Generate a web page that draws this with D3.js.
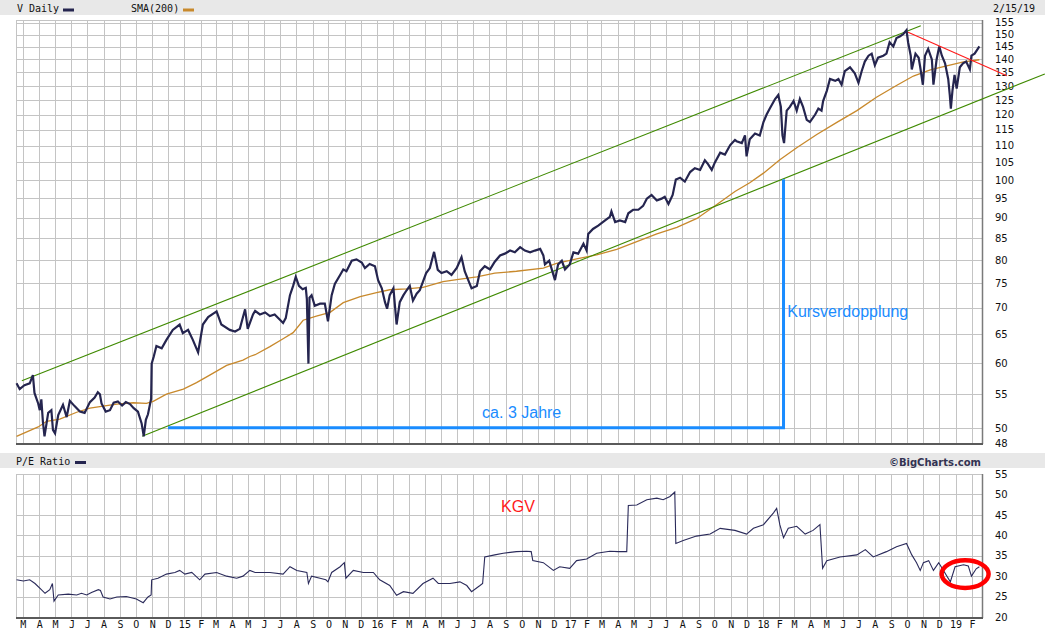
<!DOCTYPE html>
<html><head><meta charset="utf-8">
<script src="https://cdn.jsdelivr.net/npm/d3@7"></script>
<style>body{margin:0;background:#fff}svg{display:block}</style>
</head><body>
<svg id="c" width="1045" height="635"></svg>
<script>
// ---------- DATA ----------
const priceDates = ["2014-02-17","2014-02-23","2014-03-04","2014-03-14","2014-03-20","2014-03-23","2014-03-30","2014-04-02","2014-04-05","2014-04-08","2014-04-11","2014-04-18","2014-04-24","2014-04-27","2014-05-01","2014-05-07","2014-05-16","2014-05-23","2014-05-29","2014-06-07","2014-06-17","2014-06-26","2014-07-06","2014-07-15","2014-07-21","2014-07-25","2014-07-28","2014-08-05","2014-08-13","2014-08-20","2014-08-28","2014-09-05","2014-09-12","2014-09-20","2014-09-27","2014-10-05","2014-10-12","2014-10-16","2014-10-20","2014-10-24","2014-10-30","2014-10-31","2014-11-04","2014-11-09","2014-11-19","2014-11-28","2014-12-10","2014-12-23","2014-12-29","2015-01-08","2015-01-17","2015-01-27","2015-02-05","2015-02-15","2015-03-03","2015-03-12","2015-03-28","2015-04-07","2015-04-16","2015-04-26","2015-05-01","2015-05-11","2015-05-15","2015-05-24","2015-06-03","2015-06-12","2015-06-21","2015-07-01","2015-07-07","2015-07-12","2015-07-20","2015-07-26","2015-07-31","2015-08-06","2015-08-13","2015-08-19","2015-08-21","2015-08-24","2015-08-26","2015-08-30","2015-09-05","2015-09-15","2015-09-24","2015-09-30","2015-10-07","2015-10-13","2015-10-23","2015-10-29","2015-11-04","2015-11-14","2015-11-23","2015-12-03","2015-12-09","2015-12-18","2015-12-28","2016-01-03","2016-01-10","2016-01-16","2016-01-20","2016-01-25","2016-02-01","2016-02-07","2016-02-13","2016-02-20","2016-02-26","2016-03-03","2016-03-09","2016-03-16","2016-03-22","2016-03-28","2016-04-03","2016-04-10","2016-04-18","2016-04-25","2016-05-02","2016-05-12","2016-05-21","2016-05-31","2016-06-09","2016-06-15","2016-06-28","2016-07-08","2016-07-14","2016-07-23","2016-08-02","2016-08-11","2016-08-21","2016-08-30","2016-09-09","2016-09-18","2016-09-28","2016-10-07","2016-10-17","2016-10-26","2016-11-05","2016-11-11","2016-11-14","2016-11-22","2016-11-27","2016-12-03","2016-12-09","2016-12-16","2016-12-22","2016-12-31","2017-01-07","2017-01-16","2017-01-26","2017-02-01","2017-02-04","2017-02-13","2017-02-23","2017-03-08","2017-03-17","2017-03-20","2017-03-27","2017-04-05","2017-04-15","2017-04-21","2017-04-30","2017-05-10","2017-05-19","2017-05-26","2017-06-04","2017-06-14","2017-06-23","2017-06-29","2017-07-06","2017-07-14","2017-07-20","2017-07-28","2017-08-06","2017-08-16","2017-08-25","2017-09-04","2017-09-13","2017-09-19","2017-09-26","2017-10-02","2017-10-12","2017-10-21","2017-10-31","2017-11-09","2017-11-12","2017-11-22","2017-11-28","2017-12-01","2017-12-07","2017-12-17","2017-12-26","2018-01-02","2018-01-08","2018-01-14","2018-01-24","2018-01-30","2018-02-04","2018-02-07","2018-02-10","2018-02-15","2018-02-21","2018-02-28","2018-03-06","2018-03-12","2018-03-18","2018-03-25","2018-03-31","2018-04-10","2018-04-16","2018-04-22","2018-04-25","2018-05-02","2018-05-08","2018-05-18","2018-05-24","2018-05-30","2018-06-05","2018-06-15","2018-06-24","2018-07-01","2018-07-07","2018-07-13","2018-07-20","2018-07-26","2018-08-01","2018-08-07","2018-08-17","2018-08-23","2018-08-29","2018-09-05","2018-09-11","2018-09-18","2018-09-24","2018-09-30","2018-10-03","2018-10-08","2018-10-10","2018-10-17","2018-10-23","2018-10-26","2018-10-31","2018-11-04","2018-11-10","2018-11-17","2018-11-20","2018-11-26","2018-12-01","2018-12-06","2018-12-12","2018-12-18","2018-12-21","2018-12-23","2018-12-26","2018-12-30","2019-01-03","2019-01-09","2019-01-15","2019-01-21","2019-01-28","2019-01-31","2019-02-06","2019-02-12","2019-02-15"];
const priceClose = [56.7,55.8,56.4,56.7,58.0,55.2,53.6,52.6,54.2,50.9,48.9,52.2,52.6,49.8,49.3,51.9,53.4,51.6,54.0,53.2,52.4,52.2,53.8,54.5,55.3,55.0,53.6,52.4,52.6,53.7,53.9,53.3,53.8,53.5,52.9,52.4,50.7,48.9,51.2,52.0,54.3,59.9,61.1,62.9,62.5,64.0,65.8,66.8,65.2,65.8,64.0,61.8,66.8,68.2,69.3,66.8,65.8,65.5,66.0,69.7,66.0,68.7,69.4,68.7,69.1,68.4,68.7,67.7,67.1,68.0,72.5,74.4,76.3,74.4,73.7,74.0,71.7,59.9,72.0,72.5,70.4,70.8,70.8,67.4,72.5,74.8,76.7,77.9,77.5,79.8,80.1,79.4,78.2,79.1,78.6,75.6,73.9,71.1,69.8,72.5,73.9,66.8,71.1,72.5,73.5,74.4,71.4,72.8,73.5,75.3,77.1,78.2,81.8,77.8,77.1,77.5,76.7,78.2,80.6,77.5,73.9,74.4,77.5,78.6,77.9,79.6,81.0,81.4,82.1,81.7,82.9,82.1,81.7,82.1,82.5,81.0,79.0,79.8,77.9,75.6,79.0,79.8,77.9,79.0,81.7,81.4,83.7,82.1,86.0,87.2,88.0,89.3,90.2,91.6,88.9,89.3,88.9,91.1,92.0,92.0,93.0,94.9,95.9,94.4,94.9,95.4,93.5,95.9,100.1,100.6,99.5,102.2,103.3,102.8,105.6,104.5,102.8,105.0,107.9,107.3,110.2,111.8,111.4,110.8,113.2,106.8,112.0,113.8,113.2,117.5,120.0,122.0,125.3,126.7,122.6,113.2,110.8,121.3,122.6,124.6,121.3,125.3,122.6,118.2,117.5,120.0,122.0,121.3,124.6,128.2,132.5,131.8,132.5,130.4,135.4,136.9,134.6,131.1,135.4,139.1,141.4,142.2,137.7,140.6,141.4,142.2,146.8,145.1,148.5,149.3,150.2,151.8,146.8,141.4,136.1,142.2,140.6,136.9,130.4,141.4,144.1,139.9,130.4,139.9,145.1,141.4,138.4,132.5,126.7,122.0,128.2,134.0,129.0,136.9,138.4,139.1,136.1,141.4,142.2,144.1,145.1];

const smaDates = ["2014-02-17","2014-03-30","2014-04-15","2014-05-10","2014-06-11","2014-07-06","2014-07-31","2014-08-26","2014-09-26","2014-10-21","2014-11-03","2014-11-28","2014-12-30","2015-01-24","2015-02-18","2015-03-22","2015-04-22","2015-05-05","2015-05-15","2015-06-12","2015-07-07","2015-07-26","2015-08-14","2015-09-08","2015-10-04","2015-10-29","2015-11-30","2015-12-31","2016-01-25","2016-02-26","2016-03-28","2016-05-05","2016-05-31","2016-07-08","2016-08-11","2016-09-21","2016-11-11","2016-12-06","2017-01-13","2017-02-20","2017-03-30","2017-05-07","2017-06-14","2017-07-22","2017-08-29","2017-10-05","2017-11-09","2017-12-07","2018-01-02","2018-02-02","2018-03-06","2018-04-13","2018-05-21","2018-06-28","2018-08-04","2018-09-11","2018-10-13","2018-11-14","2018-12-15","2019-01-16","2019-02-15"];
const smaValues = [48.9,50.2,51.0,51.3,52.3,52.9,53.2,53.5,53.7,53.6,53.9,55.0,55.8,56.8,58.0,59.6,60.5,61.1,61.4,62.8,64.2,65.3,67.6,68.4,69.1,71.0,72.2,73.0,73.6,73.8,74.1,75.3,75.7,76.3,77.1,77.5,78.2,79.2,80.2,81.1,82.4,84.2,86.0,87.6,89.8,93.3,96.8,99.2,101.9,105.8,109.4,113.5,117.4,121.3,125.9,130.1,133.6,135.9,137.4,139.0,139.8];

const peDates = ["2014-02-17","2014-03-02","2014-03-14","2014-03-24","2014-04-05","2014-04-12","2014-04-21","2014-04-26","2014-04-29","2014-05-07","2014-05-26","2014-06-11","2014-06-20","2014-06-30","2014-07-09","2014-07-22","2014-07-26","2014-07-31","2014-08-13","2014-08-26","2014-09-13","2014-10-02","2014-10-15","2014-10-24","2014-10-30","2014-10-31","2014-11-12","2014-11-28","2014-12-14","2014-12-23","2015-01-02","2015-01-15","2015-01-30","2015-02-09","2015-03-03","2015-03-22","2015-04-10","2015-04-22","2015-05-05","2015-05-15","2015-06-12","2015-07-07","2015-07-20","2015-08-02","2015-08-21","2015-08-24","2015-08-30","2015-09-15","2015-09-26","2015-09-30","2015-10-07","2015-10-23","2015-10-31","2015-11-03","2015-11-17","2015-12-06","2015-12-25","2016-01-06","2016-01-25","2016-02-07","2016-02-20","2016-03-09","2016-03-28","2016-04-16","2016-04-26","2016-05-18","2016-06-06","2016-06-19","2016-06-28","2016-07-14","2016-07-19","2016-07-23","2016-08-11","2016-08-27","2016-09-21","2016-10-10","2016-10-19","2016-10-22","2016-11-11","2016-11-30","2016-12-12","2016-12-31","2017-01-13","2017-02-01","2017-02-20","2017-03-17","2017-04-02","2017-04-18","2017-04-21","2017-05-07","2017-05-26","2017-06-14","2017-06-26","2017-07-09","2017-07-18","2017-07-20","2017-08-03","2017-08-28","2017-09-23","2017-10-12","2017-11-09","2017-12-01","2017-12-14","2018-01-02","2018-01-21","2018-01-27","2018-02-02","2018-02-09","2018-02-18","2018-03-06","2018-03-22","2018-04-06","2018-04-19","2018-04-24","2018-05-02","2018-05-27","2018-06-28","2018-07-14","2018-07-29","2018-08-23","2018-09-11","2018-09-30","2018-10-10","2018-10-19","2018-10-26","2018-11-01","2018-11-11","2018-11-20","2018-11-30","2018-12-09","2018-12-22","2018-12-31","2019-01-16","2019-01-25","2019-01-31","2019-02-09","2019-02-15"];
const peValues = [29.1,28.8,29.1,28.2,26.7,25.8,26.7,28.2,23.9,25.4,25.6,25.4,25.8,25.4,26.0,26.7,26.5,24.9,24.4,24.9,25.0,24.4,23.5,24.9,25.4,29.1,29.5,30.5,30.9,31.4,30.5,30.9,29.1,30.5,30.9,30.0,29.5,30.0,31.4,30.9,30.9,30.5,32.3,31.4,30.9,28.2,30.0,29.5,29.1,28.6,30.9,32.3,33.3,29.5,31.4,30.9,30.9,29.1,27.7,25.3,26.2,25.8,28.2,29.5,28.2,28.2,28.6,27.7,26.2,27.7,28.2,34.7,35.2,35.6,36.0,36.1,36.0,33.8,33.3,31.4,32.3,31.9,33.8,34.2,35.6,36.1,36.0,36.0,47.3,47.4,48.7,49.1,48.7,49.5,50.6,38.0,38.7,39.8,40.3,41.7,41.2,40.3,41.7,42.6,45.5,46.6,42.6,39.4,41.7,42.2,40.3,41.2,42.6,31.9,33.8,34.7,35.2,36.5,34.7,36.0,37.2,38.0,35.2,33.3,31.4,33.3,33.8,31.4,33.3,31.4,28.6,32.3,32.8,32.5,30.0,31.8,32.3];

const priceTicks = [155,150,145,140,135,130,125,120,115,110,105,100,95,90,85,80,75,70,65,60,55,50,48];
const peTicks = [55,50,45,40,35,30,25,20];
const monthLabels = ("M A M J J A S O N D " +
  "15 F M A M J J A S O N D 16 F M A M J J A S O N D " +
  "17 F M A M J J A S O N D 18 F M A M J J A S O N D 19 F").split(" ");

// annotation geometry in data space (date, value)
const channelUpper = [["2014-02-27", 57.1], ["2018-10-27", 153.7]];
const channelLower = [["2014-10-13", 48.9], ["2019-06-19", 134.4]];
const downTrend    = [["2018-10-03", 151.0], ["2019-04-08", 133.7]];
const doublingPath = [["2014-12-01", 50.1], ["2018-02-09", 50.1], ["2018-02-09", 100.2]];
const kgvCircle    = ["2019-01-19", 30.5];

// ---------- CHART ----------
const parse = d3.timeParse("%Y-%m-%d");
const svg = d3.select("#c");
const W = 1045;
const L = 16, R = 982;
const pTop = 20, pBot = 443, eTop = 474, eBot = 617;

const x = d3.scaleTime().domain([parse("2014-02-16"), parse("2019-02-20")]).range([L, R]);
const yP = d3.scaleLog().domain([48, 156.2]).range([pBot, pTop]);
const yE = d3.scaleLinear().domain([20, 55]).range([eBot, eTop]);

const mono = "'DejaVu Sans Mono', monospace";
const grid = "#c4c4c4";

// header bands
svg.append("rect").attr("x",0).attr("y",0).attr("width",W).attr("height",15).attr("fill","#e8e8e8");
svg.append("rect").attr("x",0).attr("y",453).attr("width",W).attr("height",15).attr("fill","#e8e8e8");

// legend texts
const hdr = svg.append("g").attr("font-family", mono).attr("font-size", 10).attr("fill", "#111");
hdr.append("text").attr("x",17).attr("y",12).text("V Daily");
hdr.append("rect").attr("x",63).attr("y",8.5).attr("width",11).attr("height",3).attr("fill","#25254f");
hdr.append("text").attr("x",131).attr("y",12).text("SMA(200)");
hdr.append("rect").attr("x",183).attr("y",8.5).attr("width",11).attr("height",3).attr("fill","#c8892c");
hdr.append("text").attr("x",993).attr("y",12).text("2/15/19");
hdr.append("text").attr("x",16).attr("y",465).text("P/E Ratio");
hdr.append("rect").attr("x",75).attr("y",461).attr("width",11).attr("height",3).attr("fill","#25254f");
svg.append("text").attr("x",981).attr("y",465.5).attr("text-anchor","end")
  .attr("font-family","'DejaVu Sans', Verdana, sans-serif").attr("font-weight","bold")
  .attr("font-size",10).attr("fill","#333352").text("\u00A9BigCharts.com");

// grids
const months = d3.timeMonth.range(parse("2014-03-01"), parse("2019-02-02"));
function panelGrid(top, bot, ticks, yScale) {
  const g = svg.append("g");
  g.selectAll(".v").data(months).join("line")
    .attr("x1", d => Math.round(x(d)) + 0.5).attr("x2", d => Math.round(x(d)) + 0.5)
    .attr("y1", top).attr("y2", bot).attr("stroke", grid).attr("stroke-width", 1);
  g.selectAll(".h").data(ticks).join("line")
    .attr("x1", L).attr("x2", R)
    .attr("y1", d => Math.round(yScale(d)) + 0.5).attr("y2", d => Math.round(yScale(d)) + 0.5)
    .attr("stroke", grid).attr("stroke-width", 1);
  g.append("line").attr("x1", L).attr("x2", R).attr("y1", top + 0.5).attr("y2", top + 0.5).attr("stroke", grid);
  g.append("line").attr("x1", L + 0.5).attr("x2", L + 0.5).attr("y1", top).attr("y2", bot).attr("stroke", grid);
  g.append("line").attr("x1", R + 0.5).attr("x2", R + 0.5).attr("y1", top).attr("y2", bot + 1).attr("stroke", "#7a7a7a").attr("stroke-width", 1.5);
  g.append("line").attr("x1", L).attr("x2", R + 1).attr("y1", bot + 1).attr("y2", bot + 1).attr("stroke", "#5a5a5a").attr("stroke-width", 2);
}
panelGrid(pTop, pBot, priceTicks, yP);
panelGrid(eTop, eBot, peTicks, yE);

// axes
const axFont = "'DejaVu Sans', Verdana, sans-serif";
function styleAxis(g, size) {
  g.select(".domain").remove();
  g.selectAll("text").attr("font-family", size === "mono" ? mono : axFont).attr("font-size", 10).attr("fill", "#111");
}
svg.append("g").attr("transform", `translate(${R},0)`)
  .call(d3.axisRight(yP).tickValues(priceTicks).tickFormat(d3.format("d")).tickSize(0).tickPadding(13))
  .call(g => styleAxis(g));
svg.append("g").attr("transform", `translate(${R},0)`)
  .call(d3.axisRight(yE).tickValues(peTicks).tickFormat(d3.format("d")).tickSize(0).tickPadding(13))
  .call(g => styleAxis(g));
svg.append("g").attr("transform", `translate(0,${eBot})`)
  .call(d3.axisBottom(x).tickValues(months).tickFormat((d, i) => monthLabels[i]).tickSize(0).tickPadding(4))
  .call(g => styleAxis(g, "mono"));

// series
const price = priceDates.map((d, i) => [parse(d), priceClose[i]]);
const sma = smaDates.map((d, i) => [parse(d), smaValues[i]]);
const pe = peDates.map((d, i) => [parse(d), peValues[i]]);

const lineP = d3.line().x(d => x(d[0])).y(d => yP(d[1]));
const lineE = d3.line().x(d => x(d[0])).y(d => yE(d[1]));
const ann = pts => pts.map(p => [parse(p[0]), p[1]]);

svg.append("path").attr("d", lineP(sma)).attr("fill","none").attr("stroke","#c8892c").attr("stroke-width",1.3);
svg.append("path").attr("d", lineP(ann(channelUpper))).attr("fill","none").attr("stroke","#3f8a00").attr("stroke-width",1.1);
svg.append("path").attr("d", lineP(ann(channelLower))).attr("fill","none").attr("stroke","#3f8a00").attr("stroke-width",1.1);
svg.append("path").attr("d", lineP(price)).attr("fill","none").attr("stroke","#25254f").attr("stroke-width",2.2).attr("stroke-linejoin","miter");
svg.append("path").attr("d", lineP(ann(downTrend))).attr("fill","none").attr("stroke","#ff1a1a").attr("stroke-width",1.1);
svg.append("path").attr("d", lineP(ann(doublingPath))).attr("fill","none").attr("stroke","#1a8cff").attr("stroke-width",3);

svg.append("path").attr("d", lineE(pe)).attr("fill","none").attr("stroke","#2a2a5a").attr("stroke-width",1.1);

// annotation labels
const annFont = "'Liberation Sans', Arial, sans-serif";
svg.append("text").attr("x", x(parse("2016-07-18"))).attr("y", yP(51.5))
  .attr("font-family", annFont).attr("font-size", 16).attr("fill", "#1a8cff").text("ca. 3 Jahre");
svg.append("text").attr("x", x(parse("2018-02-16"))).attr("y", yP(68.2))
  .attr("font-family", annFont).attr("font-size", 16).attr("fill", "#1a8cff").text("Kursverdopplung");
svg.append("text").attr("x", x(parse("2016-08-23"))).attr("y", yE(45.6))
  .attr("font-family", annFont).attr("font-size", 16).attr("fill", "#ff1a1a").text("KGV");
svg.append("ellipse").attr("cx", x(parse(kgvCircle[0]))).attr("cy", yE(kgvCircle[1]))
  .attr("rx", 23.5).attr("ry", 13.8).attr("fill","none").attr("stroke","#ff0000").attr("stroke-width",4.5);
</script>
</body></html>
